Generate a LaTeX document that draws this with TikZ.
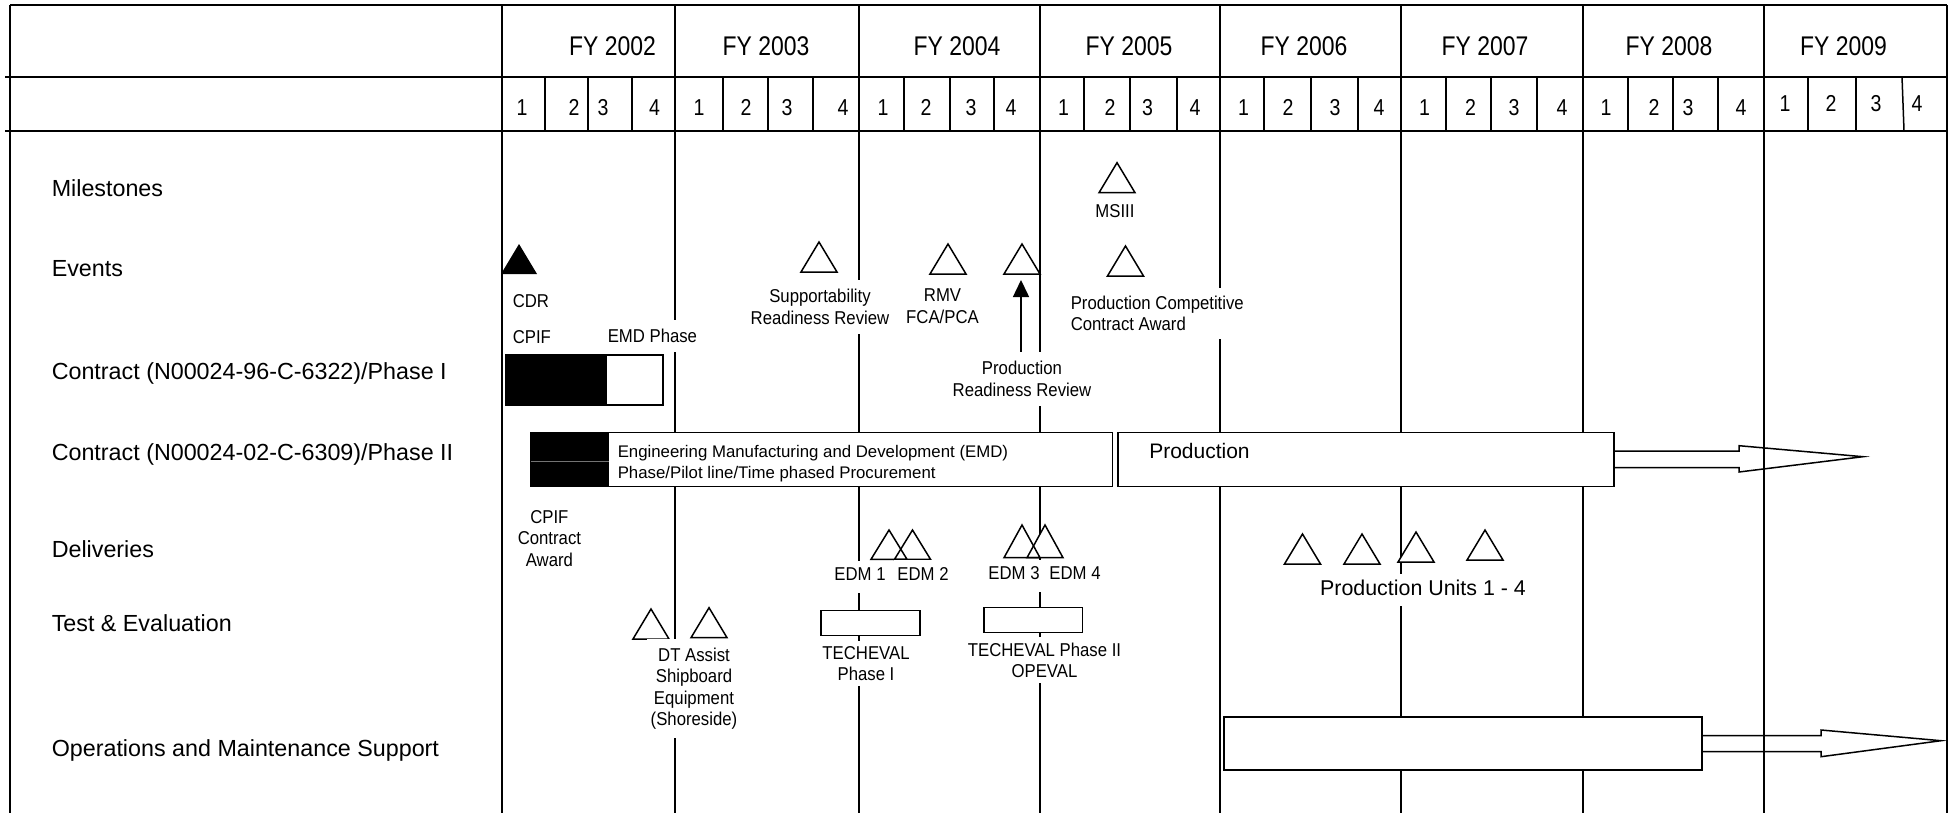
\documentclass[tikz,border=0pt]{standalone}
\usepackage{fontspec}
\setmainfont{Liberation Sans}
\newfontfamily\narrowfont[FakeStretch=0.85]{Liberation Sans}
\newfontfamily\slimfont[FakeStretch=0.9]{Liberation Sans}
\usetikzlibrary{arrows.meta}

\begin{document}
\begin{tikzpicture}[x=0.5pt,y=-0.5pt,line width=0.75pt,
  rowlabel/.style={anchor=base west,inner sep=0pt,font=\fontsize{11.65}{14}\selectfont},
  yearlabel/.style={anchor=base,inner sep=0pt,font=\narrowfont\fontsize{13.5}{16}\selectfont},
  qlabel/.style={anchor=base,inner sep=0pt,font=\narrowfont\fontsize{11.5}{14}\selectfont},
  smalltxt/.style={font=\slimfont\fontsize{9.3}{10.75}\selectfont},
  tag/.style={smalltxt,anchor=base west,inner sep=0pt},
  note/.style={smalltxt,anchor=north,align=center,fill=white,inner xsep=2pt,inner ysep=4.5pt},
  edmtag/.style={smalltxt,anchor=base,fill=white,inner xsep=1.5pt,inner ysep=3.3pt,text depth=0.3em},
  bartext/.style={anchor=north west,inner sep=0pt,align=left,font=\fontsize{8.4}{10.5}\selectfont},
  bar/.style={draw,fill=white},
  milestone/.style={draw,fill=white},
  pointer/.style={-{Triangle[length=8.5pt,width=8pt]}}
]
\useasboundingbox (0,0) rectangle (1958,813);
\fill[white] (0,0) rectangle (1958,813);

% ---- table frame and header rules
\draw (10,5) -- (1947,5);
\draw (10,5) -- (10,813);
\draw (1947,5) -- (1947,813);
\draw (5,77) -- (1947,77);
\draw (5,131) -- (1947,131);

% fiscal year boundaries run through the whole chart
\foreach \x in {502,675,859,1040,1220,1401,1583,1764}
  \draw (\x,5) -- (\x,813);

% quarter separators in the header
\foreach \x in {545,588,632,723,768,813,904,950,994,1084,1130,1177,1264,1311,1358,1446,1491,1537,1628,1673,1718,1808,1856}
  \draw (\x,77) -- (\x,131);
\draw (1902,77) -- (1904,131);

% ---- header text
\node[yearlabel] (fy02) at (612.5,55.7) {FY 2002};
\node[yearlabel] (fy03) at (766,55.7) {FY 2003};
\node[yearlabel] (fy04) at (957,55.7) {FY 2004};
\node[yearlabel] (fy05) at (1129,55.7) {FY 2005};
\node[yearlabel] (fy06) at (1304,55.7) {FY 2006};
\node[yearlabel] (fy07) at (1485,55.7) {FY 2007};
\node[yearlabel] (fy08) at (1669,55.7) {FY 2008};
\node[yearlabel] (fy09) at (1843.5,55.7) {FY 2009};

\foreach \x/\q [count=\i] in {522/1,574/2,603/3,654.5/4, 699/1,746/2,787/3,843/4,
    883/1,926/2,971/3,1011/4, 1063.5/1,1110/2,1147.5/3,1195/4,
    1243.5/1,1288/2,1335/3,1379/4, 1424.6/1,1470.5/2,1514/3,1562/4,
    1606/1,1654/2,1688/3,1741/4}
  \node[qlabel] (q\i) at (\x,115.2) {\q};
\foreach \x/\q [count=\i] in {1785/1,1831/2,1876/3,1917/4}
  \node[qlabel] (r\i) at (\x,111.2) {\q};

% ---- row labels
\node[rowlabel] (lmil) at (51,196.4) {Milestones};
\node[rowlabel] (levt) at (51,276.4) {Events};
\node[rowlabel] (lci)  at (51,379.4) {Contract (N00024-96-C-6322)/Phase I};
\node[rowlabel] (lcii) at (51,460.4) {Contract (N00024-02-C-6309)/Phase II};
\node[rowlabel] (ldel) at (51,557.4) {Deliveries};
\node[rowlabel] (lte)  at (51,631.4) {Test \& Evaluation};
\node[rowlabel] (lom)  at (51,756.4) {Operations and Maintenance Support};

% ---- contract Phase I bar
\fill[black] (506,355) rectangle (607,405);
\draw (506,355) rectangle (663,405);

% ---- contract Phase II: EMD bar
\draw[bar] (530.5,432.7) rectangle (1112.5,486.7);
\fill[black] (530.5,432.7) rectangle (609,486.7);
\draw[black!55,line width=0.4pt] (531,461.7) -- (608.5,461.7);
\node[bartext] (emd) at (617,444.4) {Engineering Manufacturing and Development (EMD)\\Phase/Pilot line/Time phased Procurement};

% ---- production arrow
\draw (1614,451) -- (1739,451) -- (1739,445.7) -- (1863,456.7) -- (1739,472) -- (1739,467.7) -- (1614,467.7);
\draw[bar] (1118,432.7) rectangle (1614,486.7);
\node[anchor=base west,inner sep=0pt,font=\fontsize{10.5}{12}\selectfont] (prod) at (1148.5,458.2) {Production};

% ---- operations and maintenance arrow
\draw (1702,735.7) -- (1821,735.7) -- (1821,730) -- (1941,740.7) -- (1821,756.7) -- (1821,751.7) -- (1702,751.7);
\draw[bar] (1224,717) rectangle (1702,770);

% ---- test and evaluation boxes
\draw[bar] (821,610.7) rectangle (920,635.7);
\draw[bar] (984,607.7) rectangle (1082.7,632.7);

% ---- milestone and delivery triangles
\fill[black] (501,274) -- (519,244) -- (537,274) -- cycle;
\foreach \x/\y/\h in {1117/192.7/30, 819/272/30, 948/274/30, 1022/274/30, 1125.5/276/30,
    889/559.3/29.3, 912.5/559.3/29.3, 1022/557.7/32.7, 1045/557.7/32.7,
    1302.5/564/30, 1362/564/30, 1416/562/30, 1485/560/30, 651/639/30, 709/637.7/30}
  \fill[white] (\x-18,\y) -- (\x,\y-\h) -- (\x+18,\y) -- cycle;
\foreach \x/\y/\h in {1117/192.7/30, 819/272/30, 948/274/30, 1022/274/30, 1125.5/276/30,
    889/559.3/29.3, 912.5/559.3/29.3, 1022/557.7/32.7, 1045/557.7/32.7,
    1302.5/564/30, 1362/564/30, 1416/562/30, 1485/560/30, 651/639/30, 709/637.7/30}
  \draw (\x-18,\y) -- (\x,\y-\h) -- (\x+18,\y) -- cycle;
\coordinate (prrtip) at (1021,280);

% ---- event and milestone texts
\node[tag] (msiii) at (1115,217.7) [anchor=base] {MSIII};
\node[tag] (cdr) at (512,307.4) {CDR};
\node[tag] (cpif) at (512,343.4) {CPIF};
\node[tag,fill=white,inner xsep=1pt,inner ysep=4.6pt] (emdph) at (605,342.7) {EMD Phase};
\node[note] (sup) at (820,279.7) {Supportability\\Readiness Review};
\node[note] (rmv) at (942.5,279) {RMV\\FCA/PCA};
\node[note] (prr) at (1022,351.7) {Production\\Readiness Review};
\node[note,anchor=north west,align=left,inner xsep=1pt,inner ysep=4pt] (pcca) at (1068,287) {Production Competitive\\Contract Award};
\draw[pointer] (prr.north -| prrtip) -- (prrtip);

% ---- delivery texts
\node[note,fill=none] (award) at (549.4,500.7) {CPIF\\Contract\\Award};
\node[edmtag] (edm1) at (860,580) {EDM 1};
\node[edmtag] (edm2) at (923,580) {EDM 2};
\node[edmtag] (edm3) at (1014,579.7) {EDM 3};
\node[edmtag] (edm4) at (1075,579.7) {EDM 4};
\node[anchor=base,fill=white,inner xsep=1pt,inner ysep=3pt,text depth=0.25em,font=\fontsize{10.7}{12}\selectfont] (units) at (1423,595.4) {Production Units 1 - 4};

% ---- test and evaluation texts
\node[note,inner ysep=4.3pt] (dt) at (694,638.4) {DT Assist\\Shipboard\\Equipment\\(Shoreside)};
\node[note,inner ysep=2.5pt] (te1) at (866,640.7) {TECHEVAL\\Phase I};
\node[note,inner ysep=2.75pt] (te2) at (1044.5,636.5) {TECHEVAL Phase II\\OPEVAL};
\end{tikzpicture}
\end{document}
